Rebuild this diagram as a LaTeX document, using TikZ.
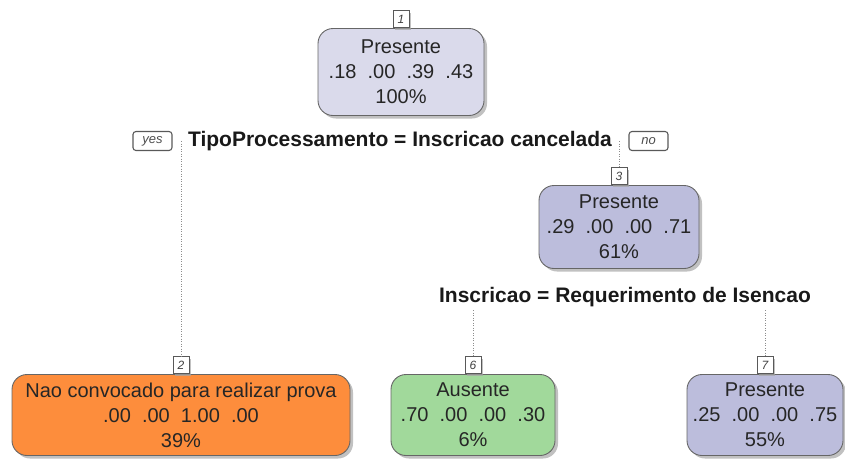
\documentclass[tikz,border=0pt]{standalone}
\usepackage{fontspec}
\setmainfont{Liberation Sans}
\usetikzlibrary{shapes, positioning, shadows}

\definecolor{purpA}{HTML}{DADAEB}
\definecolor{purpB}{HTML}{BCBDDC}
\definecolor{orangeL}{HTML}{FD8D3C}
\definecolor{greenL}{HTML}{A1D99B}

\begin{document}
\begin{tikzpicture}[x=1pt, y=-1pt,
  box/.style={draw=black!60, line width=0.9pt, rounded corners=15pt, align=center,
    inner sep=2pt, text=black!85, font=\fontsize{20}{25}\selectfont,
    drop shadow={shadow xshift=3pt, shadow yshift=-3pt, fill=black!35, opacity=0.7}},
  num/.style={draw=black!65, fill=white, line width=0.8pt, minimum width=16pt,
    minimum height=17pt, inner sep=1pt, text=black!75,
    font=\fontsize{12}{13}\selectfont\itshape,
    drop shadow={shadow xshift=2pt, shadow yshift=-2pt, fill=black!35, opacity=0.7}},
  split/.style={font=\fontsize{21}{24}\selectfont\bfseries, text=black!90},
  answer/.style={draw=black!65, rounded corners=3pt, line width=1.1pt, minimum width=39pt,
    minimum height=19pt, inner sep=1pt, text=black!70,
    font=\fontsize{13}{14}\selectfont\itshape},
  branch/.style={draw=black!45, line width=0.9pt, dash pattern=on 1pt off 1.5pt}]

  \useasboundingbox (0,0) rectangle (845,464);

  % root
  \node[box, fill=purpA, minimum width=166pt, minimum height=87pt] (n1) at (401,72)
    {Presente\\.18~~.00~~.39~~.43\\100\%};
  \node[num, above=0pt of n1] (l1) {1};

  \node[split] (s1) at (400,141) {TipoProcessamento = Inscricao cancelada};
  \node[answer, left=12pt of s1] (yes) {yes};
  \node[answer, right=13pt of s1] (no) {no};

  % right child
  \node[box, fill=purpB, minimum width=160pt, minimum height=83pt] (n3) at (619,227)
    {Presente\\.29~~.00~~.00~~.71\\61\%};
  \node[num, above=0pt of n3] (l3) {3};

  \node[split] (s3) at (625,297) {Inscricao = Requerimento de Isencao};

  % leaves
  \node[box, fill=orangeL, minimum width=338pt, minimum height=81pt] (n2) at (181,415)
    {Nao convocado para realizar prova\\.00~~.00~~1.00~~.00\\39\%};
  \node[num, above=0pt of n2] (l2) {2};

  \node[box, fill=greenL, minimum width=164pt, minimum height=81pt] (n6) at (473,415)
    {Ausente\\.70~~.00~~.00~~.30\\6\%};
  \node[num, above=0pt of n6] (l6) {6};

  \node[box, fill=purpB, minimum width=156pt, minimum height=81pt] (n7) at (765,415)
    {Presente\\.25~~.00~~.00~~.75\\55\%};
  \node[num, above=0pt of n7] (l7) {7};

  % branches
  \draw[branch] (l2.north |- s1.center) -- (l2.north);
  \draw[branch] (l3.north |- s1.center) -- (l3.north);
  \draw[branch] (l6.north |- s3.south) -- (l6.north);
  \draw[branch] (l7.north |- s3.south) -- (l7.north);
\end{tikzpicture}
\end{document}
